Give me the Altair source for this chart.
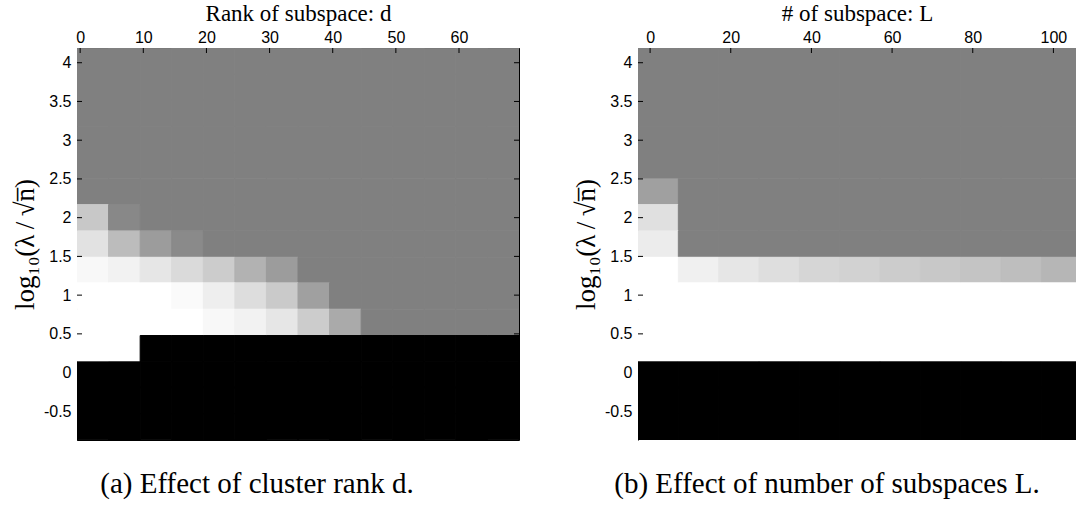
import altair as alt
import pandas as pd

# ---------------- data ----------------
# column centres (x) of the two image panels
D_CENTERS = [2, 7, 12, 17, 22, 27, 32, 37, 42, 47, 52, 57, 62, 67]
L_CENTERS = [2, 12, 22, 32, 42, 52, 62, 72, 82, 92, 102]
D_CELL_W = 5
L_CELL_W = 10

# row centres (y, log10(lambda/sqrt(n))), top to bottom
Y_CENTERS = [4.02, 3.68, 3.35, 3.01, 2.67, 2.33, 2.00, 1.66,
             1.32, 0.99, 0.65, 0.31, -0.03, -0.36, -0.70]
ROW_H = 0.337

# grey level of every cell (0 = black, 255 = white), rows top to bottom
GRAY_D = [
    [128] * 14,
    [128] * 14,
    [128] * 14,
    [128] * 14,
    [128] * 14,
    [128] * 14,
    [200, 136] + [128] * 12,
    [226, 188, 156, 138] + [128] * 10,
    [248, 242, 230, 218, 204, 178, 156] + [128] * 7,
    [255, 255, 255, 250, 238, 221, 202, 160] + [128] * 6,
    [255, 255, 255, 255, 248, 242, 230, 204, 170] + [128] * 5,
    [255, 255] + [0] * 12,
    [0] * 14,
    [0] * 14,
    [0] * 14,
]
GRAY_L = [
    [128] * 11,
    [128] * 11,
    [128] * 11,
    [128] * 11,
    [128] * 11,
    [160] + [128] * 10,
    [224] + [128] * 10,
    [236] + [128] * 10,
    [255, 240, 230, 222, 214, 210, 204, 200, 196, 190, 182],
    [255] * 11,
    [255] * 11,
    [255] * 11,
    [0] * 11,
    [0] * 11,
    [0] * 11,
]

X_TICKS_D = [0, 10, 20, 30, 40, 50, 60]
X_TICKS_L = [0, 20, 40, 60, 80, 100]
Y_TICKS = [-0.5, 0, 0.5, 1, 1.5, 2, 2.5, 3, 3.5, 4]

X_DOMAIN_D = [-0.5, 69.5]
X_DOMAIN_L = [-3, 105.6]
Y_DOMAIN = [-0.87, 4.19]

TITLE_D = "Rank of subspace: d"
TITLE_L = "# of subspace: L"
Y_TITLE = "log\u2081\u2080(\u03bb\u2009/\u2009\u221an\u0305)"
CAPTION_D = "(a) Effect of cluster rank d."
CAPTION_L = "(b) Effect of number of subspaces L."

W_D, W_L, H = 442, 438, 392
SERIF = "Liberation Serif"
SANS = "Liberation Sans"


def cells(xc, cw, gray):
    rows = []
    for r, yc in enumerate(Y_CENTERS):
        for c, x in enumerate(xc):
            rows.append({"x": x - cw / 2, "x2": x + cw / 2,
                         "y": yc - ROW_H / 2, "y2": yc + ROW_H / 2,
                         "g": gray[r][c]})
    return pd.DataFrame(rows)


def panel(xc, cw, gray, xticks, xdomain, xtitle, caption, width, right_box, cap_dx):
    df = cells(xc, cw, gray)
    xscale = alt.Scale(domain=xdomain, nice=False, zero=False)
    yscale = alt.Scale(domain=Y_DOMAIN, nice=False, zero=False)
    gscale = alt.Scale(domain=[0, 255], range=["#000000", "#ffffff"],
                       interpolate="rgb")
    xaxis = alt.Axis(orient="top", values=xticks, title=xtitle, ticks=False,
                     grid=False, domainColor="black", domainWidth=1,
                     labelFont=SANS, labelFontSize=16, labelColor="black",
                     labelPadding=3, labelFlush=False, labelOverlap=False,
                     titleFont=SERIF, titleFontSize=23, titleFontWeight="normal",
                     titleColor="black", titlePadding=4)
    yaxis = alt.Axis(orient="left", values=Y_TICKS, title=Y_TITLE, ticks=False,
                     grid=False, domainColor="black", domainWidth=1,
                     labelFont=SANS, labelFontSize=16, labelColor="black",
                     labelPadding=6, labelExpr="'' + datum.value",
                     labelFlush=False, labelOverlap=False,
                     titleFont=SERIF, titleFontSize=27, titleFontWeight="normal",
                     titleColor="black", titlePadding=4)
    rect = alt.Chart(df).mark_rect(clip=True, strokeWidth=1).encode(
        x=alt.X("x:Q", scale=xscale, axis=xaxis),
        x2="x2:Q",
        y=alt.Y("y:Q", scale=yscale, axis=yaxis),
        y2="y2:Q",
        color=alt.Color("g:Q", scale=gscale, legend=None),
        stroke=alt.Stroke("g:Q", scale=gscale, legend=None),
    )
    xt = alt.Chart(pd.DataFrame({"t": xticks})).mark_rule(
        color="black", strokeWidth=1, clip=True).encode(
        x=alt.X("t:Q", scale=xscale, axis=xaxis),
        y=alt.value(0), y2=alt.value(5))
    yt = alt.Chart(pd.DataFrame({"t": Y_TICKS})).mark_rule(
        color="black", strokeWidth=1).encode(
        y=alt.Y("t:Q", scale=yscale, axis=yaxis),
        x=alt.value(0), x2=alt.value(5))
    layers = [rect, xt, yt]
    if right_box:
        yr = alt.Chart(pd.DataFrame({"t": Y_TICKS})).mark_rule(
            color="black", strokeWidth=1).encode(
            y=alt.Y("t:Q", scale=yscale, axis=yaxis),
            x=alt.value(width - 5), x2=alt.value(width))
        layers.append(yr)
    view = alt.ViewBackground(stroke="black" if right_box else None,
                              strokeWidth=1, fill="white")
    return alt.layer(*layers).properties(
        width=width, height=H, view=view,
        title=alt.TitleParams(caption, orient="bottom", anchor="middle",
                              font=SERIF, fontSize=29, fontWeight="normal",
                              color="black", offset=30, dx=cap_dx),
    )


left = panel(D_CENTERS, D_CELL_W, GRAY_D, X_TICKS_D, X_DOMAIN_D, TITLE_D,
             CAPTION_D, W_D, True, -41)
right = panel(L_CENTERS, L_CELL_W, GRAY_L, X_TICKS_L, X_DOMAIN_L, TITLE_L,
              CAPTION_L, W_L, False, -30)

chart = alt.hconcat(left, right, spacing=52).properties(
    padding={"left": 10, "top": 1, "right": 0, "bottom": 0},
    background="white",
).configure_view(stroke=None)

chart.save("out.html", embed_options={"renderer": "svg", "actions": False})
